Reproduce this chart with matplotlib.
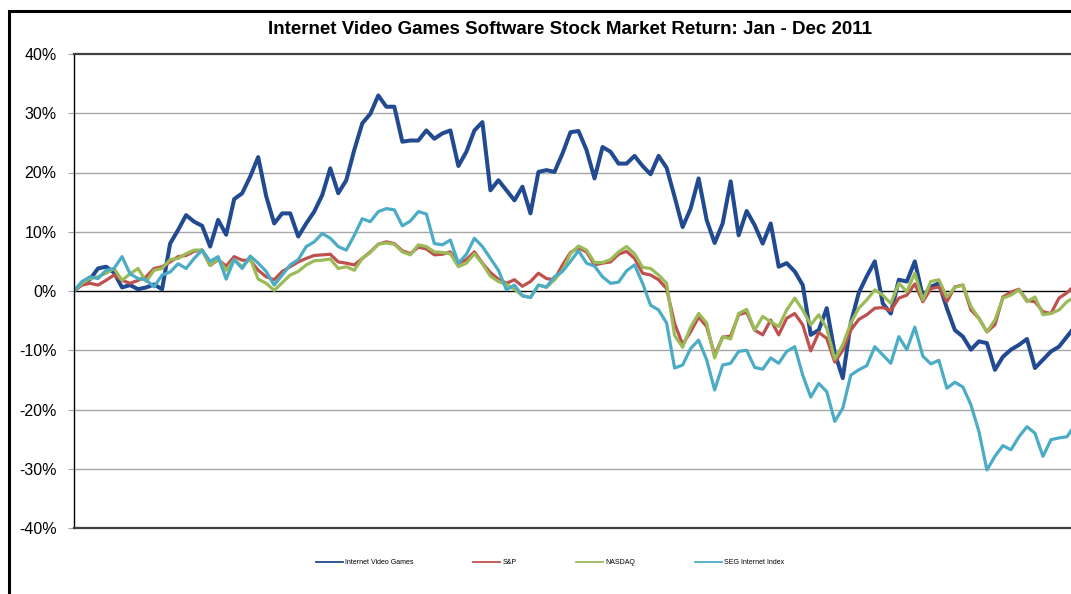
import numpy as np
import matplotlib
matplotlib.use("Agg")
import matplotlib.pyplot as plt
from matplotlib.patches import Rectangle
from matplotlib.ticker import FuncFormatter

# trading day index (one reading every 2 sessions, Jan - Dec 2011)
days = np.arange(0, 252, 2)

# cumulative return in %
ivg = [0, 1.3, 2.0, 3.8, 4.1, 3.1, 0.6, 1.0, 0.3, 0.6, 1.1, 0.3, 8.0, 10.3, 12.8, 11.7, 11.0, 7.5, 12.0, 9.5, 15.5,
       16.5, 19.3, 22.6, 16.0, 11.4, 13.1, 13.1, 9.2, 11.4, 13.4, 16.2, 20.7, 16.5, 18.7, 23.8, 28.3, 29.9, 33.0, 31.1, 31.1, 25.2,
       25.4, 25.4, 27.1, 25.7, 26.6, 27.1, 21.1, 23.5, 27.1, 28.5, 17.0, 18.7, 17.0, 15.3, 17.6, 13.1, 20.1, 20.4, 20.1, 23.2,
       26.8, 27.0, 23.8, 19.0, 24.3, 23.5, 21.5, 21.5, 22.8, 21.1, 19.7, 22.8, 20.8, 15.9, 10.8, 13.9, 19.0, 12.0, 8.1, 11.4, 18.5, 9.4,
       13.5, 11.1, 8.0, 11.4, 4.1, 4.7, 3.3, 1.0, -7.4, -6.6, -2.9, -10.5, -14.7, -5.4, -0.3, 2.5, 5.0, -2.1, -3.8, 1.9, 1.6, 5.0,
       -1.0, 0.7, 1.3, -2.9, -6.6, -7.7, -9.9, -8.5, -8.8, -13.3, -11.1, -9.9, -9.1, -8.1, -13.0, -11.6, -10.2, -9.4, -7.7, -6.0]

sp = [0, 1.0, 1.3, 1.0, 1.8, 2.7, 1.8, 1.3, 1.8, 2.4, 3.8, 4.1, 4.9, 5.8, 6.0, 6.7, 6.9, 4.3, 5.3, 4.2, 5.8,
      5.2, 5.2, 3.5, 2.4, 1.9, 3.3, 4.1, 4.9, 5.5, 6.0, 6.1, 6.2, 4.9, 4.7, 4.4, 5.5, 6.6, 7.9, 8.3, 8.0, 6.8,
      6.3, 7.4, 7.1, 6.1, 6.2, 6.6, 4.7, 5.3, 6.6, 4.7, 3.1, 2.0, 1.3, 1.9, 0.8, 1.6, 3.0, 2.1, 1.9, 4.4,
      6.5, 7.3, 6.6, 4.4, 4.7, 4.9, 6.2, 6.7, 5.5, 3.0, 2.7, 1.9, 0.4, -5.5, -9.0, -6.9, -4.4, -6.0, -10.8, -7.8, -7.6, -4.0,
      -3.6, -6.6, -7.4, -4.9, -7.4, -4.6, -3.8, -5.7, -10.1, -7.0, -8.0, -12.0, -10.0, -6.6, -4.8, -4.0, -2.9, -2.8, -3.3, -1.2, -0.7, 1.2,
      -1.8, 0.4, 0.7, -1.8, 0.7, 1.0, -3.2, -4.6, -6.9, -5.7, -1.0, -0.2, 0.3, -1.6, -1.8, -3.5, -3.8, -1.2, -0.3, 1.0]

nasdaq = [0, 1.3, 2.1, 2.4, 3.0, 3.8, 1.8, 2.9, 3.8, 1.6, 3.5, 3.8, 5.3, 5.5, 6.3, 6.9, 6.9, 4.3, 5.5, 3.5, 5.3,
          4.1, 5.5, 2.0, 1.3, 0.1, 1.4, 2.7, 3.3, 4.4, 5.1, 5.2, 5.4, 3.8, 4.1, 3.5, 5.5, 6.5, 7.9, 8.1, 7.9, 6.6,
          6.1, 7.8, 7.5, 6.6, 6.5, 6.3, 4.1, 4.7, 6.3, 4.6, 2.5, 1.6, 1.1, 0.3, -0.8, -1.1, 1.0, 0.6, 1.9, 3.5,
          6.3, 7.6, 6.9, 4.8, 4.8, 5.3, 6.6, 7.5, 6.3, 4.0, 3.8, 2.7, 1.3, -7.5, -9.5, -6.1, -3.8, -5.4, -11.3, -7.7, -8.1, -3.8,
          -3.1, -6.6, -4.3, -5.2, -6.0, -3.2, -1.2, -3.2, -5.7, -4.0, -6.3, -11.5, -9.1, -5.4, -2.9, -1.5, 0.2, -0.7, -2.1, 1.3, -0.1, 3.0,
          -1.5, 1.6, 1.9, -1.0, 0.6, 1.0, -2.6, -4.6, -6.9, -4.9, -1.2, -0.7, 0.2, -1.8, -1.0, -4.0, -3.8, -3.2, -1.8, -1.0]

seg = [0, 1.6, 2.4, 2.1, 3.5, 3.8, 5.8, 2.9, 2.1, 1.9, 0.7, 2.7, 3.2, 4.6, 3.8, 5.5, 6.9, 5.0, 5.8, 2.0, 5.3,
       3.8, 5.9, 4.7, 3.3, 1.0, 2.7, 4.4, 5.3, 7.5, 8.3, 9.7, 8.9, 7.5, 6.9, 9.4, 12.2, 11.7, 13.4, 13.9, 13.7, 11.0,
       11.8, 13.4, 13.0, 8.0, 7.8, 8.6, 4.7, 6.2, 8.9, 7.5, 5.5, 3.5, 0.2, 1.0, -0.8, -1.1, 1.0, 0.7, 2.4, 3.3,
       5.0, 6.8, 4.7, 4.2, 2.4, 1.3, 1.5, 3.4, 4.4, 1.3, -2.4, -3.2, -5.4, -13.0, -12.5, -9.7, -8.3, -11.6, -16.7, -12.5, -12.2, -10.2,
       -10.0, -12.9, -13.2, -11.3, -12.2, -10.2, -9.4, -14.2, -17.9, -15.6, -17.0, -22.0, -19.8, -14.2, -13.3, -12.6, -9.4, -10.8, -12.2, -7.7, -9.9, -6.1,
       -11.0, -12.3, -11.7, -16.4, -15.4, -16.2, -19.2, -23.7, -30.2, -27.9, -26.1, -26.8, -24.6, -22.9, -24.0, -27.9, -25.1, -24.8, -24.6, -22.6]

names = ["Internet Video Games", "S&P", "NASDAQ", "SEG Internet Index"]
colors = ["#214a91", "#c0504d", "#9bbb59", "#4bacc6"]
widths = [2.9, 2.3, 2.3, 2.3]

plt.rcParams['font.family'] = ['Liberation Sans', 'DejaVu Sans']

fig = plt.figure(figsize=(10.71, 5.94), dpi=100)
W, H = 1071, 594
# plot area runs off the right side of the picture, like the source
ax = fig.add_axes([74 / W, 1 - 528 / H, (1075 - 74) / W, (528 - 54) / H])

for vals, name, c, lw in zip([ivg, sp, nasdaq, seg], names, colors, widths):
    ax.plot(days, vals, color=c, lw=lw, label=name, solid_joinstyle='round')

ax.set_xlim(0, 250)
ax.set_ylim(-40, 40)
ax.set_yticks(np.arange(-40, 41, 10))
ax.yaxis.set_major_formatter(FuncFormatter(lambda v, p: f"{int(v)}%"))
ax.set_xticks([])

# grid lines, zero line in black
for v in range(-30, 40, 10):
    if v == 0:
        ax.axhline(0, color='black', lw=1.0, zorder=1)
    else:
        ax.axhline(v, color='#a6a6a6', lw=1.0, zorder=0)

ax.tick_params(axis='y', length=4, color='#a6a6a6', pad=8.5, labelsize=11.5)
for s in ['top', 'bottom']:
    ax.spines[s].set_color('#404040')
    ax.spines[s].set_linewidth(1.6)
ax.spines['left'].set_color('black')
ax.spines['left'].set_linewidth(1.0)
ax.spines['right'].set_visible(False)

fig.text(570 / W, 1 - 30 / H, "Internet Video Games Software Stock Market Return: Jan - Dec 2011",
         ha='center', va='center', fontsize=13.5, fontweight='bold')

leg = fig.legend(loc='center', bbox_to_anchor=(550 / W, 1 - 563 / H), ncol=4, frameon=False,
                 fontsize=5, handlelength=3.9, handletextpad=0.3, columnspacing=8.6)
for ln in leg.get_lines():
    ln.set_linewidth(1.3)

# outer chart border (only left and top edges show)
fig.add_artist(Rectangle((9 / W, -0.2), 1.5, 1.2 - 11 / H, transform=fig.transFigure,
                         fill=False, edgecolor='black', lw=2.2, clip_on=False))

fig.savefig("out.png", dpi=100)
